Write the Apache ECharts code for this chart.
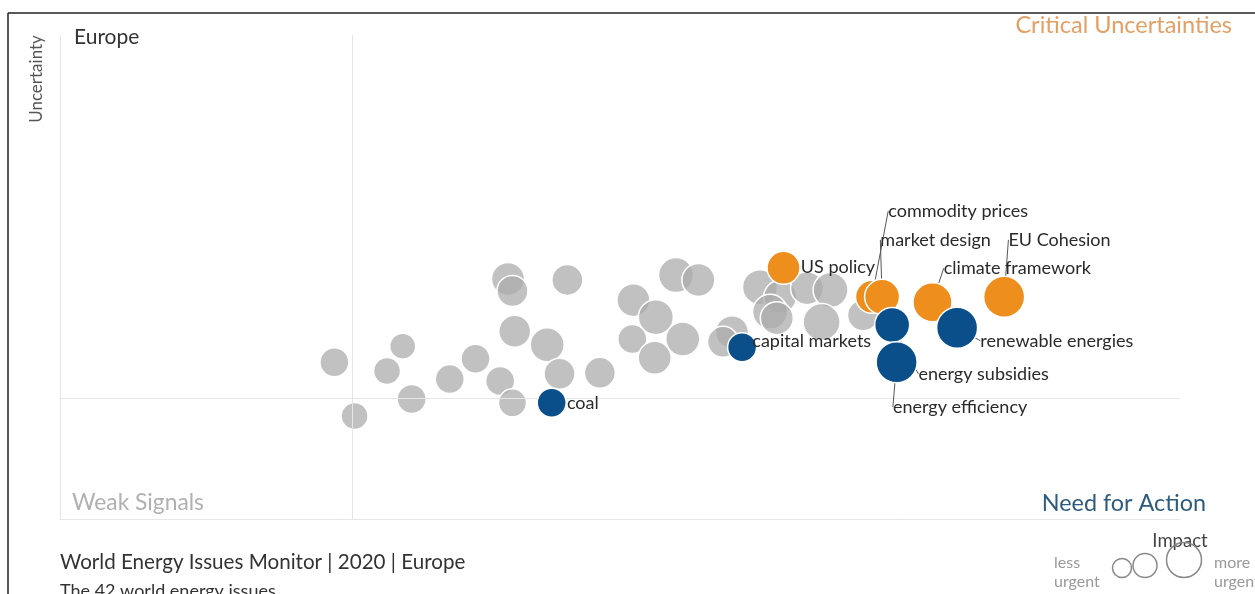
<!DOCTYPE html>
<html>
<head>
<meta charset="utf-8">
<script src="https://cdn.jsdelivr.net/npm/echarts@6/dist/echarts.min.js"></script>
<style>
html,body{margin:0;padding:0;background:#fff;}
#chart{width:1255px;height:594px;}
</style>
</head>
<body>
<div id="chart"></div>
<script>
// ---- data ----
// other issues (grey): impact position (x), uncertainty (y), urgency (bubble size)
const otherX = [2.45, 2.63, 2.92, 3.06, 3.14, 3.48, 3.71, 3.93, 4.04, 4.00, 4.04, 4.53, 4.06, 4.35, 4.46, 4.82, 5.12, 5.32, 5.11, 5.56, 5.31, 5.50, 5.70, 6.00, 5.92, 6.25, 6.43, 6.67, 6.88, 6.34, 6.40, 6.80, 7.17];
const otherY = [3.24, 2.13, 3.06, 3.57, 2.48, 2.89, 3.31, 2.85, 2.40, 4.96, 4.71, 4.94, 3.88, 3.60, 3.00, 3.02, 4.52, 4.17, 3.72, 3.72, 3.33, 5.04, 4.94, 3.86, 3.66, 4.79, 4.59, 4.77, 4.73, 4.28, 4.15, 4.07, 4.21];
const otherUrgency = [3, 2, 2, 1.5, 3, 3, 3, 3, 2.5, 5, 4, 4, 4.5, 5.5, 4, 4, 5, 6, 3, 5.5, 5, 6, 5, 5, 4, 6, 5, 5, 6, 6, 5, 7, 4];

// highlighted issues
const criticalNames = ['US policy', 'commodity prices', 'market design', 'climate framework', 'EU Cohesion'];
const criticalX = [6.46, 7.25, 7.34, 7.79, 8.43];
const criticalY = [5.19, 4.59, 4.59, 4.48, 4.59];
const criticalUrgency = [5, 5, 6, 8, 9];

const actionNames = ['capital markets', 'coal', 'energy subsidies', 'energy efficiency', 'renewable energies'];
const actionX = [6.09, 4.39, 7.43, 7.47, 8.01];
const actionY = [3.55, 2.40, 4.01, 3.24, 3.95];
const actionUrgency = [3, 3, 6, 9, 9];

const midX = 2.61;
const midY = 2.5;

// ---- label placement (pixel offsets, style only) ----
const labelOffsets = {
  'US policy': [-5, -1],
  'commodity prices': [-6, -86],
  'market design': [-25, -57],
  'climate framework': [-14, -34],
  'EU Cohesion': [-22, -57],
  'capital markets': [-10, -6],
  'coal': [-5, 0],
  'energy subsidies': [3, 49],
  'energy efficiency': [-30, 45],
  'renewable energies': [-3, 13]
};

function sizeOf(u) { return 2 * (11.5 + u); }
function zip(xs, ys, us, names) {
  return xs.map((x, i) => ({ value: [x, ys[i], us[i]], name: names ? names[i] : '' }));
}

const FONT = 'Lato, "Open Sans", sans-serif';
const chart = echarts.init(document.getElementById('chart'));

const labelCfg = {
  show: true, position: 'right', distance: 5,
  formatter: '{b}', color: '#2a2a2a', fontSize: 18, fontFamily: FONT
};
const labelLineCfg = { show: true, length2: 0, lineStyle: { color: '#555', width: 1 } };
function layout(p) {
  const o = labelOffsets[p.text];
  return o ? { dx: o[0], dy: o[1] } : {};
}

chart.setOption({
  animation: false,
  grid: { left: 60, right: 75, top: 35, bottom: 75 },
  xAxis: {
    type: 'value', min: 0, max: 10,
    axisLine: { show: true, lineStyle: { color: '#e6e6e6', width: 1 } },
    axisTick: { show: false }, axisLabel: { show: false }, splitLine: { show: false }
  },
  yAxis: {
    type: 'value', min: 0, max: 10,
    axisLine: { show: true, lineStyle: { color: '#e6e6e6', width: 1 } },
    axisTick: { show: false }, axisLabel: { show: false }, splitLine: { show: false }
  },
  series: [
    {
      type: 'scatter',
      data: zip(otherX, otherY, otherUrgency),
      symbolSize: v => sizeOf(v[2]),
      itemStyle: { color: 'rgba(172,172,172,0.75)', opacity: 1, borderColor: '#fff', borderWidth: 1.5 },
      emphasis: { disabled: true },
      z: 2,
      markLine: {
        silent: true, symbol: 'none', animation: false,
        label: { show: false },
        lineStyle: { color: '#e6e6e6', type: 'solid', width: 1 },
        data: [{ xAxis: midX }, { yAxis: midY }]
      }
    },
    {
      type: 'scatter',
      data: zip(criticalX, criticalY, criticalUrgency, criticalNames),
      symbolSize: v => sizeOf(v[2]),
      itemStyle: { color: '#EE8E1D', opacity: 1, borderColor: '#fff', borderWidth: 1.5 },
      emphasis: { disabled: true },
      label: labelCfg, labelLine: labelLineCfg, labelLayout: layout,
      z: 4
    },
    {
      type: 'scatter',
      data: zip(actionX, actionY, actionUrgency, actionNames),
      symbolSize: v => sizeOf(v[2]),
      itemStyle: { color: '#0B4F8A', opacity: 1, borderColor: '#fff', borderWidth: 1.5 },
      emphasis: { disabled: true },
      label: labelCfg, labelLine: labelLineCfg, labelLayout: layout,
      z: 5
    }
  ],
  graphic: [
    { type: 'line', shape: { x1: 8, y1: 13, x2: 1255, y2: 13 }, style: { stroke: '#222', lineWidth: 1.5 }, silent: true },
    { type: 'line', shape: { x1: 8, y1: 13, x2: 8, y2: 594 }, style: { stroke: '#222', lineWidth: 1.5 }, silent: true },
    { type: 'text', x: 37, y: 79, rotation: Math.PI / 2, style: { text: 'Uncertainty', font: '17px ' + FONT, fill: '#555', align: 'center', verticalAlign: 'middle' } },
    { type: 'text', x: 74, y: 37, style: { text: 'Europe', font: '21px ' + FONT, fill: '#333', verticalAlign: 'middle' } },
    { type: 'text', x: 1232, y: 25, style: { text: 'Critical Uncertainties', font: '23.5px ' + FONT, fill: '#E3A065', align: 'right', verticalAlign: 'middle' } },
    { type: 'text', x: 72, y: 503, style: { text: 'Weak Signals', font: '22.8px ' + FONT, fill: '#B0B0B0', verticalAlign: 'middle' } },
    { type: 'text', x: 1206, y: 503, style: { text: 'Need for Action', font: '23.4px ' + FONT, fill: '#2E5C7E', align: 'right', verticalAlign: 'middle' } },
    { type: 'text', x: 60, y: 562, style: { text: 'World Energy Issues Monitor | 2020 | Europe', font: '20.6px ' + FONT, fill: '#333', verticalAlign: 'middle' } },
    { type: 'text', x: 60, y: 591, style: { text: 'The 42 world energy issues', font: '18px ' + FONT, fill: '#333', verticalAlign: 'middle' } },
    { type: 'text', x: 1180, y: 541, style: { text: 'Impact', font: '18.5px ' + FONT, fill: '#444', align: 'center', verticalAlign: 'middle' } },
    { type: 'text', x: 1054, y: 563, style: { text: 'less', font: '16px ' + FONT, fill: '#999', verticalAlign: 'middle' } },
    { type: 'text', x: 1054, y: 582, style: { text: 'urgent', font: '16px ' + FONT, fill: '#999', verticalAlign: 'middle' } },
    { type: 'text', x: 1214, y: 563, style: { text: 'more', font: '16px ' + FONT, fill: '#999', verticalAlign: 'middle' } },
    { type: 'text', x: 1214, y: 582, style: { text: 'urgent', font: '16px ' + FONT, fill: '#999', verticalAlign: 'middle' } },
    { type: 'circle', shape: { cx: 1122, cy: 568, r: 9.5 }, style: { fill: 'none', stroke: '#888', lineWidth: 1.5 } },
    { type: 'circle', shape: { cx: 1145, cy: 565.5, r: 12 }, style: { fill: 'none', stroke: '#888', lineWidth: 1.5 } },
    { type: 'circle', shape: { cx: 1184, cy: 560, r: 17.5 }, style: { fill: 'none', stroke: '#888', lineWidth: 1.5 } }
  ]
});
</script>
</body>
</html>
